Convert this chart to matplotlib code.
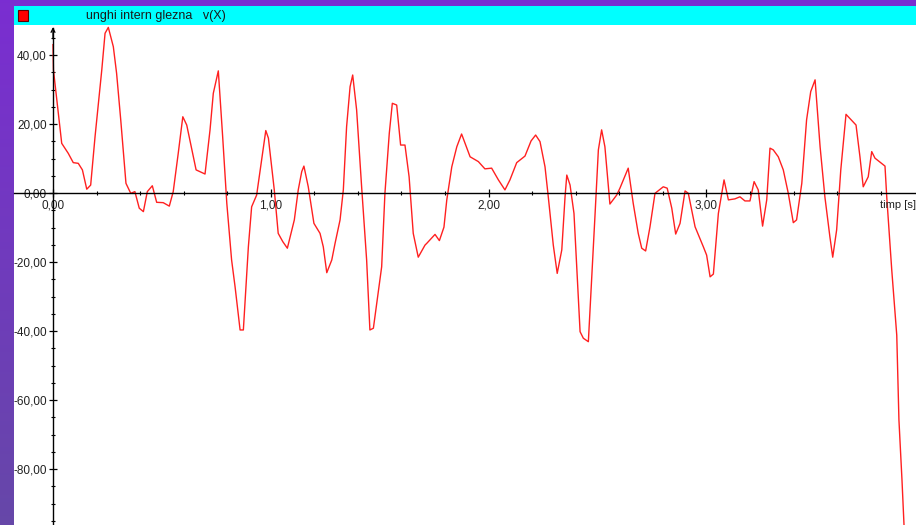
import numpy as np
import matplotlib
matplotlib.use("Agg")
import matplotlib.pyplot as plt
from matplotlib.patches import Rectangle
from matplotlib.ticker import FuncFormatter, FixedLocator

# ---- data (time [s], angle velocity) ----
t = [0.000, 0.002, 0.040, 0.070, 0.093, 0.116, 0.135, 0.155, 0.173, 0.193,
     0.224, 0.239, 0.254, 0.277, 0.292, 0.311, 0.335, 0.357, 0.376, 0.396,
     0.415, 0.433, 0.456, 0.476, 0.506, 0.534, 0.552, 0.575, 0.596, 0.614,
     0.657, 0.698, 0.721, 0.736, 0.759, 0.779, 0.798, 0.820, 0.836, 0.859,
     0.874, 0.897, 0.912, 0.935, 0.958, 0.977, 0.989, 1.016, 1.034, 1.055,
     1.076, 1.108, 1.126, 1.142, 1.152, 1.172, 1.198, 1.226, 1.241, 1.257,
     1.280, 1.295, 1.318, 1.333, 1.348, 1.364, 1.376, 1.394, 1.417, 1.440,
     1.455, 1.471, 1.509, 1.524, 1.544, 1.558, 1.578, 1.596, 1.616, 1.635,
     1.654, 1.677, 1.708, 1.716, 1.754, 1.774, 1.795, 1.808, 1.831, 1.854,
     1.876, 1.915, 1.953, 1.983, 2.014, 2.045, 2.075, 2.098, 2.129, 2.167,
     2.195, 2.216, 2.236, 2.259, 2.274, 2.297, 2.315, 2.336, 2.351, 2.359,
     2.374, 2.392, 2.407, 2.420, 2.435, 2.458, 2.473, 2.489, 2.504, 2.519,
     2.534, 2.557, 2.588, 2.603, 2.641, 2.664, 2.687, 2.703, 2.721, 2.741,
     2.764, 2.802, 2.820, 2.841, 2.859, 2.879, 2.902, 2.917, 2.948, 2.986,
     3.001, 3.017, 3.032, 3.055, 3.081, 3.101, 3.131, 3.154, 3.177, 3.200,
     3.219, 3.238, 3.258, 3.277, 3.292, 3.307, 3.330, 3.353, 3.376, 3.399,
     3.414, 3.438, 3.460, 3.479, 3.499, 3.522, 3.544, 3.567, 3.580, 3.598,
     3.617, 3.641, 3.687, 3.705, 3.720, 3.743, 3.759, 3.774, 3.820, 3.828,
     3.851, 3.874, 3.884, 3.898, 3.910]
v = [43.0, 35.7, 14.4, 11.5, 8.8, 8.6, 6.7, 1.1, 2.3, 16.3,
     35.7, 46.3, 48.0, 42.4, 34.7, 21.2, 2.8, -0.1, 0.4, -4.4,
     -5.4, 0.4, 2.1, -2.7, -2.8, -3.8, 0.4, 11.5, 22.1, 19.7,
     6.7, 5.5, 18.3, 28.9, 35.4, 16.3, -3.0, -19.4, -27.2, -39.7,
     -39.7, -15.6, -4.0, -0.6, 9.6, 18.1, 15.9, 0.9, -11.7, -14.1,
     -16.0, -7.8, 0.9, 6.2, 7.8, 1.8, -8.8, -11.7, -15.6, -23.1,
     -19.4, -14.6, -7.8, 0.9, 19.2, 30.8, 34.2, 24.1, 1.8, -19.4,
     -39.7, -39.2, -21.4, -0.1, 17.3, 26.0, 25.5, 13.9, 13.9, 4.7,
     -11.7, -18.6, -15.1, -14.6, -12.0, -13.8, -9.9, -2.0, 7.6, 13.4,
     17.1, 10.5, 9.1, 7.0, 7.2, 3.8, 0.9, 3.8, 8.8, 10.7,
     15.1, 16.8, 14.9, 7.6, -1.1, -15.1, -23.3, -16.5, -1.1, 5.2,
     2.3, -5.9, -24.3, -40.2, -42.1, -43.1, -25.2, -5.9, 12.5, 18.3,
     13.4, -3.2, -0.6, 1.4, 7.2, -3.0, -11.7, -16.0, -16.8, -9.8,
     -0.1, 1.8, 1.4, -4.4, -11.9, -8.8, 0.6, -0.1, -9.8, -15.6,
     -18.0, -24.3, -23.5, -5.9, 3.8, -2.0, -1.7, -1.1, -2.3, -2.3,
     3.3, 0.9, -9.6, -2.0, 13.0, 12.5, 10.5, 6.7, -0.1, -8.6,
     -7.8, 2.8, 21.2, 29.4, 32.8, 13.4, -1.1, -12.7, -18.6, -10.7,
     6.7, 22.8, 19.7, 10.5, 1.8, 4.7, 12.0, 10.1, 7.8, -1.1,
     -22.3, -41.2, -65.8, -83.2, -100.0]

x_major = [0, 1, 2, 3]
y_major = [-80, -60, -40, -20, 0, 20, 40]
title_text = "unghi intern glezna   v(X)"
x_label = "timp [s]"

W, H = 916, 525
plt.rcParams['font.family'] = ['Liberation Sans', 'DejaVu Sans']

fig = plt.figure(figsize=(W / 100, H / 100), dpi=100)

def fx(px):
    return px / W

def fy(py):
    return 1 - py / H

# purple gradient background
bg = fig.add_axes([0, 0, 1, 1])
grad = np.linspace(0, 1, 256)[:, None]
top = np.array([0.48, 0.18, 0.82])
bot = np.array([0.40, 0.28, 0.66])
img = top[None, None, :] * (1 - grad[:, :, None]) + bot[None, None, :] * grad[:, :, None]
bg.imshow(img, aspect='auto', extent=[0, 1, 0, 1])
bg.set_axis_off()

# cyan header bar
fig.patches.append(Rectangle((fx(14), fy(25)), fx(902), 19 / H, transform=fig.transFigure,
                             facecolor='#00FFFF', edgecolor='none', zorder=1))
fig.patches.append(Rectangle((fx(18), fy(21)), fx(10), 11 / H, transform=fig.transFigure,
                             facecolor='#FF0000', edgecolor='#600000', lw=0.8, zorder=2))
fig.text(fx(86), fy(15.5), title_text, fontsize=9, color='#1a1a1a', va='center', ha='left')

# main plot area
ax = fig.add_axes([fx(14), 0, fx(902), 500 / H])
ax.set_facecolor('white')
x0, x1 = (14 - 53) / 217.8, (916 - 53) / 217.8
y0, y1 = (193 - 525) / 3.45, (193 - 25) / 3.45
ax.set_xlim(x0, x1)
ax.set_ylim(y0, y1)

ax.plot(t, v, color='#FF2020', lw=1.0, zorder=3)

for s in ['top', 'right']:
    ax.spines[s].set_visible(False)
ax.spines['left'].set_position(('data', 0))
ax.spines['bottom'].set_position(('data', 0))
ax.spines['left'].set_bounds(y0, y1 - 0.8)
for s in ['left', 'bottom']:
    ax.spines[s].set_linewidth(1.0)
    ax.spines[s].set_color('black')
    ax.spines[s].set_zorder(4)

ax.annotate('', xy=(0, y1 - 0.6), xytext=(0, y1 - 4),
            arrowprops=dict(arrowstyle='->', lw=0.9, color='black', shrinkA=0, shrinkB=0,
                            mutation_scale=7), zorder=5)

fmt = FuncFormatter(lambda val, pos: f"{val:.2f}".replace('.', ','))
ax.xaxis.set_major_locator(FixedLocator(x_major))
ax.yaxis.set_major_locator(FixedLocator(y_major))
ax.xaxis.set_minor_locator(FixedLocator([0.2 * i for i in range(1, 20) if i % 5]))
ax.yaxis.set_minor_locator(FixedLocator([5 * i for i in range(-19, 10) if i % 4]))
ax.xaxis.set_major_formatter(fmt)
ax.yaxis.set_major_formatter(fmt)
ax.tick_params(axis='both', which='major', direction='inout', length=6, width=0.9,
               labelsize=8.5, colors='black', pad=1.5)
ax.tick_params(axis='both', which='minor', direction='inout', length=3, width=0.8)
for lab in ax.get_xticklabels():
    lab.set_color('#222222')
for lab in ax.get_yticklabels():
    lab.set_color('#222222')

ax.text((880 - 53) / 217.8, (193 - 205) / 3.45, x_label, fontsize=8, color='#222222',
        ha='left', va='center')

fig.savefig('out.png', dpi=100)
